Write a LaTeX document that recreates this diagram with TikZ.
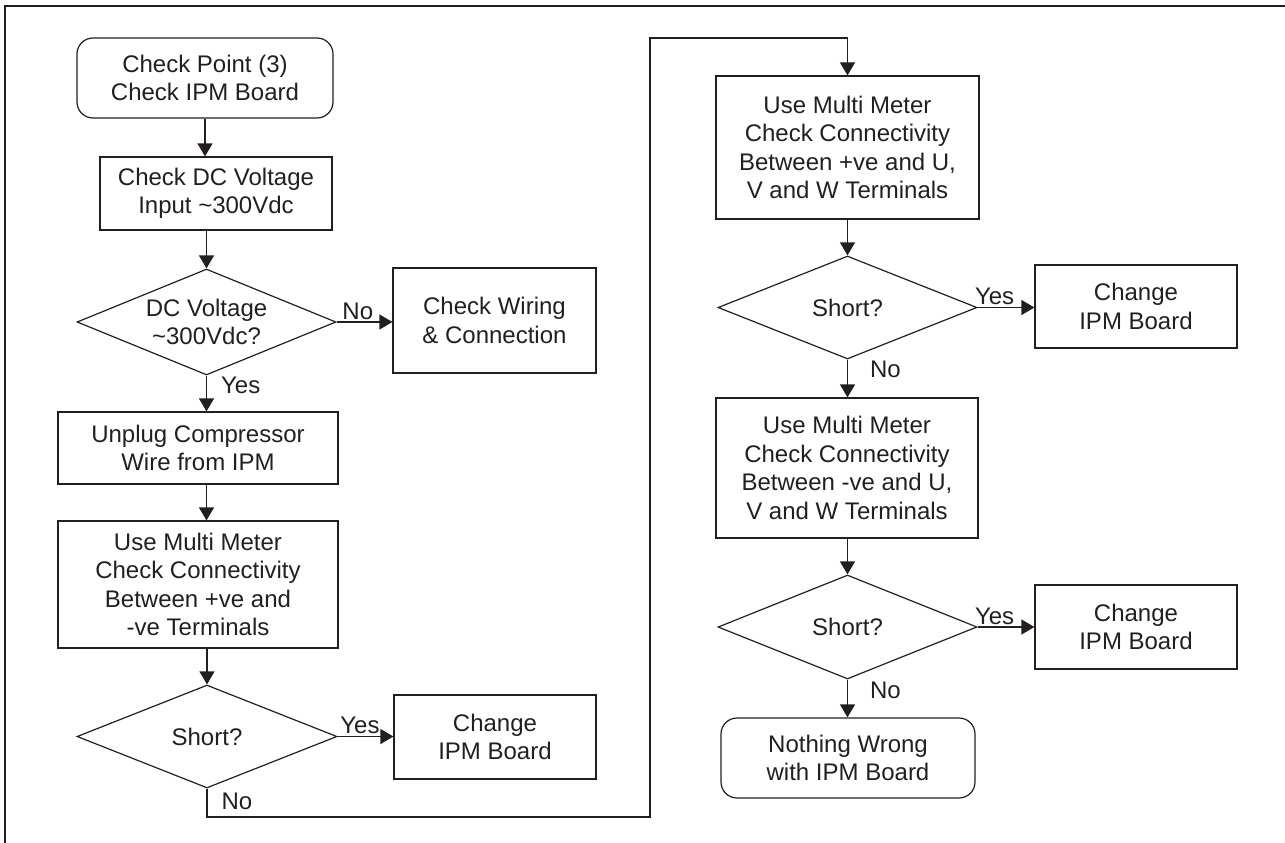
\documentclass[tikz,border=0pt]{standalone}
\usepackage{fontspec}
\setmainfont{Liberation Sans}
\usetikzlibrary{arrows.meta,shapes.geometric,positioning}
\definecolor{ink}{RGB}{35,31,32}

\begin{document}
\begin{tikzpicture}[x=1pt,y=-1pt, color=ink, line width=1.2pt,
  font=\fontsize{24}{28.5}\selectfont,
  procbox/.style={draw, rectangle, align=center, inner sep=0pt},
  termbox/.style={draw, rectangle, rounded corners=16pt, align=center, inner sep=0pt},
  decision/.style={draw, diamond, shape aspect=2.45, align=center, inner sep=0pt},
  flow/.style={-{Triangle[length=13pt,width=15pt]}},
  lbl/.style={inner sep=2pt}]
\useasboundingbox (0,0) rectangle (1285,843);
% frame
\draw[line width=1.5pt] (5,843) -- (5,6) -- (1285,6);

% LEFT: supply voltage and +ve/-ve check
\node[termbox, minimum width=256pt, minimum height=80pt] (start) at (205,78) {Check Point (3)\\Check IPM Board};
\node[procbox, minimum width=232pt, minimum height=73pt] (dcin) at (216,193.5) {Check DC Voltage\\Input \textasciitilde300Vdc};
\node[decision, minimum width=259pt, minimum height=106pt] (dcq) at (206.5,322) {DC Voltage\\\textasciitilde300Vdc?};
\node[procbox, minimum width=203pt, minimum height=105pt] (wiring) at (494.5,320.5) {Check Wiring\\\& Connection};
\node[procbox, minimum width=280pt, minimum height=72pt] (unplug) at (198,448) {Unplug Compressor\\Wire from IPM};
\node[procbox, minimum width=280pt, minimum height=127pt] (meterA) at (198,584.5) {Use Multi Meter\\Check Connectivity\\Between +ve and\\-ve Terminals};
\node[decision, minimum width=260pt, minimum height=103pt] (shortA) at (207,736.5) {Short?};
\node[procbox, minimum width=202pt, minimum height=84pt] (changeA) at (495,737) {Change\\IPM Board};

\draw[flow] (start.south) -- (start.south |- dcin.north);
\draw[flow] (dcq.north |- dcin.south) -- (dcq.north);
\draw[flow] (dcq.east) -- node[above, pos=0.38, lbl] {No} (dcq.east -| wiring.west);
\draw[flow] (dcq.south) -- node[right, pos=0.28, lbl, xshift=12pt] {Yes} (dcq.south |- unplug.north);
\draw[flow] (dcq.south |- unplug.south) -- (dcq.south |- meterA.north);
\draw[flow] (shortA.north |- meterA.south) -- (shortA.north);
\draw[flow] (shortA.east) -- node[above, pos=0.4, lbl] {Yes} (shortA.east -| changeA.west);

% loop over to the right column
\coordinate (lowrun) at (650,817);
\coordinate (highrun) at (650,38);

% RIGHT: +ve and -ve against U, V, W
\node[procbox, minimum width=263pt, minimum height=143pt] (meterB) at (847.5,147.5) {Use Multi Meter\\Check Connectivity\\Between +ve and U,\\V and W Terminals};
\node[decision, minimum width=259pt, minimum height=103pt] (shortB) at (847.5,307.5) {Short?};
\node[procbox, minimum width=202pt, minimum height=83pt] (changeB) at (1136,306.5) {Change\\IPM Board};
\node[procbox, minimum width=262pt, minimum height=140pt] (meterC) at (847,468) {Use Multi Meter\\Check Connectivity\\Between -ve and U,\\V and W Terminals};
\node[decision, minimum width=259pt, minimum height=104pt] (shortC) at (847.5,627) {Short?};
\node[procbox, minimum width=202pt, minimum height=84pt] (changeC) at (1136,627) {Change\\IPM Board};
\node[termbox, minimum width=254pt, minimum height=80pt] (nothing) at (848,758) {Nothing Wrong\\with IPM Board};

\draw[flow] (shortA.south) -- node[right, pos=0.45, lbl, xshift=12pt] {No} (shortA.south |- lowrun)
  -- (lowrun) -- (highrun) -- (highrun -| meterB.north) -- (meterB.north);
\draw[flow] (meterB.south) -- (shortB.north);
\draw[flow] (shortB.east) -- node[above, pos=0.3, lbl] {Yes} (shortB.east -| changeB.west);
\draw[flow] (shortB.south) -- node[right, pos=0.26, lbl, xshift=20pt] {No} (shortB.south |- meterC.north);
\draw[flow] (shortC.north |- meterC.south) -- (shortC.north);
\draw[flow] (shortC.east) -- node[above, pos=0.3, lbl] {Yes} (shortC.east -| changeC.west);
\draw[flow] (shortC.south) -- node[right, pos=0.28, lbl, xshift=20pt] {No} (shortC.south |- nothing.north);
\end{tikzpicture}
\end{document}
